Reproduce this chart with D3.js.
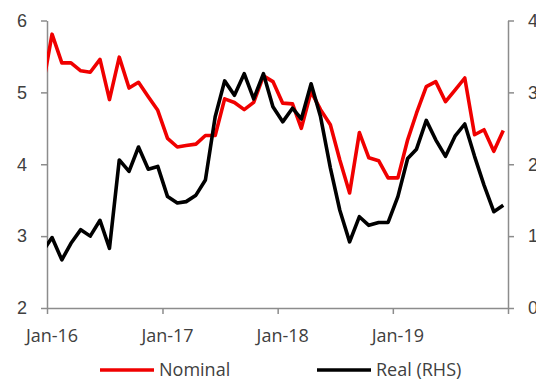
<!DOCTYPE html>
<html>
<head>
<meta charset="utf-8">
<script src="https://cdn.jsdelivr.net/npm/d3@7"></script>
<style>
  html, body { margin: 0; padding: 0; background: #fff; }
  svg { display: block; font-family: "Open Sans", sans-serif; }
  .axis path, .axis line { stroke: #8c8c8c; stroke-width: 1.5; }
  .axis text { fill: #404040; font-size: 18px; }
</style>
</head>
<body>
<svg id="chart" width="536" height="380"></svg>
<script>
// Monthly observations, Dec-15 to Dec-19
const months = [
  "Dec-15",
  "Jan-16","Feb-16","Mar-16","Apr-16","May-16","Jun-16","Jul-16","Aug-16","Sep-16","Oct-16","Nov-16","Dec-16",
  "Jan-17","Feb-17","Mar-17","Apr-17","May-17","Jun-17","Jul-17","Aug-17","Sep-17","Oct-17","Nov-17","Dec-17",
  "Jan-18","Feb-18","Mar-18","Apr-18","May-18","Jun-18","Jul-18","Aug-18","Sep-18","Oct-18","Nov-18","Dec-18",
  "Jan-19","Feb-19","Mar-19","Apr-19","May-19","Jun-19","Jul-19","Aug-19","Sep-19","Oct-19","Nov-19","Dec-19"
];
const nominal = [
  5.04,
  5.81, 5.41, 5.41, 5.30, 5.28, 5.46, 4.90, 5.49, 5.06, 5.14, 4.94, 4.75,
  4.36, 4.24, 4.26, 4.28, 4.40, 4.40, 4.91, 4.86, 4.76, 4.86, 5.23, 5.15,
  4.85, 4.84, 4.50, 5.01, 4.76, 4.55, 4.06, 3.60, 4.44, 4.09, 4.05, 3.81,
  3.81, 4.34, 4.71, 5.08, 5.15, 4.87, 5.03, 5.20, 4.41, 4.48, 4.18, 4.47
];
const real = [
  0.78,
  0.98, 0.67, 0.90, 1.09, 1.00, 1.22, 0.83, 2.06, 1.90, 2.24, 1.93, 1.97,
  1.55, 1.46, 1.48, 1.57, 1.78, 2.66, 3.16, 2.96, 3.26, 2.91, 3.26, 2.80,
  2.59, 2.78, 2.63, 3.12, 2.66, 1.95, 1.36, 0.92, 1.27, 1.15, 1.19, 1.19,
  1.55, 2.08, 2.21, 2.61, 2.34, 2.11, 2.39, 2.56, 2.11, 1.71, 1.34, 1.43
];
const yearTicks = ["Jan-16", "Jan-17", "Jan-18", "Jan-19", "Jan-20"];
const leftTicks = [2, 3, 4, 5, 6];
const rightTicks = [0, 1, 2, 3, 4];

const svg = d3.select("#chart");
const m = { left: 47, right: 508, top: 20.5, bottom: 308 };

const parse = d3.utcParse("%b-%y");
// each monthly value is plotted in the middle of its month
const mid = s => d3.utcDay.offset(parse(s), 16);

const x = d3.scaleUtc()
  .domain([parse(yearTicks[0]), parse(yearTicks[yearTicks.length - 1])])
  .range([m.left, m.right]);
const yL = d3.scaleLinear().domain([2, 6]).range([m.bottom, m.top]);
const yR = d3.scaleLinear().domain([0, 4]).range([m.bottom, m.top]);

svg.append("defs").append("clipPath").attr("id", "plot")
  .append("rect")
  .attr("x", m.left).attr("y", 0)
  .attr("width", m.right - m.left).attr("height", 380);

// Axes
svg.append("g").attr("class", "axis")
  .attr("transform", `translate(0,${m.bottom})`)
  .call(d3.axisBottom(x).tickValues(yearTicks.map(parse)).tickSize(6).tickSizeOuter(0).tickFormat(""));

svg.append("g").selectAll("text")
  .data(yearTicks.slice(0, -1))
  .join("text")
  .attr("x", d => x(mid(d)))
  .attr("y", 342)
  .attr("text-anchor", "middle")
  .attr("fill", "#404040")
  .style("font-size", "18px")
  .text(d => d);

svg.append("g").attr("class", "axis")
  .attr("transform", `translate(${m.left},0)`)
  .call(d3.axisLeft(yL).tickValues(leftTicks).tickSize(6).tickSizeOuter(0).tickPadding(14).tickFormat(d3.format("d")));

svg.append("g").attr("class", "axis")
  .attr("transform", `translate(${m.right},0)`)
  .call(d3.axisRight(yR).tickValues(rightTicks).tickSize(6).tickSizeOuter(0).tickPadding(14).tickFormat(d3.format("d")));

// Series
const lineL = d3.line().x((d, i) => x(mid(months[i]))).y(d => yL(d));
const lineR = d3.line().x((d, i) => x(mid(months[i]))).y(d => yR(d));

const plot = svg.append("g").attr("clip-path", "url(#plot)");
plot.append("path").datum(nominal)
  .attr("d", lineL)
  .attr("fill", "none").attr("stroke", "#f00000")
  .attr("stroke-width", 3.6).attr("stroke-linejoin", "round");
plot.append("path").datum(real)
  .attr("d", lineR)
  .attr("fill", "none").attr("stroke", "#000000")
  .attr("stroke-width", 3.6).attr("stroke-linejoin", "round");

// Legend
const legend = [
  { name: "Nominal", color: "#f00000", x0: 100 },
  { name: "Real (RHS)", color: "#000000", x0: 317 }
];
const lg = svg.append("g").selectAll("g").data(legend).join("g")
  .attr("transform", d => `translate(${d.x0},370)`);
lg.append("line").attr("x1", 0).attr("x2", 54).attr("y1", 0).attr("y2", 0)
  .attr("stroke", d => d.color).attr("stroke-width", 3.6);
lg.append("text").attr("x", 59).attr("y", 6)
  .attr("fill", "#404040").style("font-size", "18px")
  .text(d => d.name);
</script>
</body>
</html>
